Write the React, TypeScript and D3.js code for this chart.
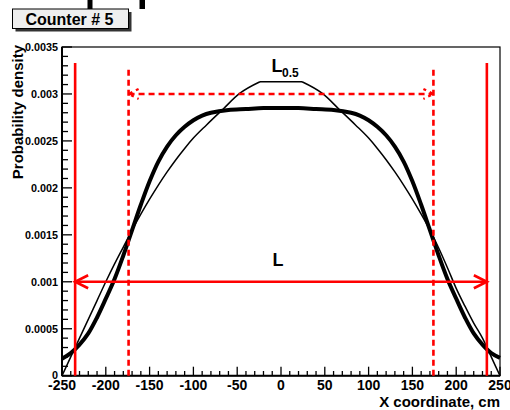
import React from "react";
import * as d3 from "d3";

// ---- data ----
const thickX = [-250, -240, -230, -220, -210, -200, -190, -180, -170, -160, -150, -140, -130, -120, -110, -100, -90, -80, -60, -40, -20, 0, 20, 40, 60, 80, 90, 100, 110, 120, 130, 140, 150, 160, 170, 180, 190, 200, 210, 220, 230, 240, 250];
const thickY = [0.00018, 0.00024, 0.00033, 0.00045, 0.00062, 0.00082, 0.00103, 0.00128, 0.00155, 0.00182, 0.00207, 0.00228, 0.00244, 0.00256, 0.00265, 0.00272, 0.00277, 0.0028, 0.00283, 0.00284, 0.00285, 0.00285, 0.00285, 0.00284, 0.00283, 0.0028, 0.00277, 0.00272, 0.00265, 0.00256, 0.00244, 0.00228, 0.00207, 0.00182, 0.00155, 0.00128, 0.00103, 0.00082, 0.00062, 0.00045, 0.00033, 0.00024, 0.00019];

const thinX = [-250, -240, -230, -220, -210, -200, -190, -180, -170, -160, -150, -140, -130, -120, -110, -100, -85, -66, -48, -24, 24, 48, 66, 85, 100, 110, 120, 130, 140, 150, 160, 170, 180, 190, 200, 210, 220, 230, 240, 250];
const thinY = [0, 0.0002, 0.0004, 0.0006, 0.0008, 0.001, 0.00119, 0.00137, 0.00155, 0.00172, 0.00188, 0.00203, 0.00217, 0.0023, 0.00242, 0.00253, 0.00267, 0.00284, 0.003, 0.00313, 0.00313, 0.003, 0.00284, 0.00267, 0.00253, 0.00242, 0.0023, 0.00217, 0.00203, 0.00188, 0.00172, 0.00155, 0.00136, 0.00115, 0.00093, 0.00074, 0.00056, 0.0004, 0.0002, 0];

const xTickLabels = ["-250", "-200", "-150", "-100", "-50", "0", "50", "100", "150", "200", "250"];
const yTickLabels = ["0", "0.0005", "0.001", "0.0015", "0.002", "0.0025", "0.003", "0.0035"];

const fullRange = [-235, 235]; // L
const halfRange = [-174, 174]; // L0.5
const fullTop = 0.00333;
const halfTop = 0.00327;
const fullArrowY = 0.001;
const halfArrowY = 0.003;

const FONT = "'Liberation Sans', Arial, Helvetica, sans-serif";

export default function App() {
  const W = 510, H = 410;
  const x = d3.scaleLinear().domain([-250, 250]).range([62, 500]);
  const y = d3.scaleLinear().domain([0, 0.0035]).range([375.7, 47]);

  const smooth = d3
    .line<[number, number]>()
    .x((d) => x(d[0]))
    .y((d) => y(d[1]))
    .curve(d3.curveCatmullRom.alpha(0.5));
  const mono = d3
    .line<[number, number]>()
    .x((d) => x(d[0]))
    .y((d) => y(d[1]))
    .curve(d3.curveMonotoneX);

  const thick = thickX.map((v, i) => [v, thickY[i]] as [number, number]);
  const thin = thinX.map((v, i) => [v, thinY[i]] as [number, number]);
  const topL = thinX.indexOf(-24);
  const topR = thinX.indexOf(24);
  const thinLeft = thin.slice(0, topL + 1);
  const thinTop = thin.slice(topL, topR + 1);
  const thinRight = thin.slice(topR);

  const xMinor = d3.range(-250, 251, 10);
  const yMinor = d3.range(0, 36).map((i) => i * 0.0001);

  const red = "#ff0000";

  const arrowHead = (tipX: number, tipY: number, dir: number, len: number, half: number) =>
    `M${tipX + dir * len},${tipY - half}L${tipX},${tipY}L${tipX + dir * len},${tipY + half}`;

  return (
    <svg
      width={W}
      height={H}
      style={{ position: "absolute", left: 0, top: 0, background: "#fff" }}
      fontFamily={FONT}
    >
      <rect x={0} y={0} width={W} height={H} fill="#fff" />
      {/* fragments of big title cut at top */}
      <rect x={87.5} y={0} width={5} height={9} fill="#000" />
      <rect x={139.5} y={0} width={5.5} height={9} fill="#000" />

      {/* title box */}
      <rect x={15.5} y={12} width={116} height={19.5} fill="#333" />
      <rect x={12.5} y={9} width={116} height={19.5} fill="#efefef" stroke="#000" strokeWidth={1} />
      <text x={69.5} y={25} textAnchor="middle" fontSize={16} fontWeight="bold">
        Counter # 5
      </text>

      {/* frame */}
      <rect x={62} y={47} width={438} height={328.7} fill="none" stroke="#000" strokeWidth={1.2} />
      <line x1={62} x2={62} y1={47} y2={375.7} stroke="#000" strokeWidth={2} />
      <line x1={62} x2={500} y1={375.7} y2={375.7} stroke="#000" strokeWidth={2} />

      {/* x ticks */}
      {xMinor.map((v) => {
        const major = v % 50 === 0;
        return (
          <line key={"xt" + v} x1={x(v)} x2={x(v)} y1={375.7} y2={375.7 - (major ? 9 : 4.7)} stroke="#000" strokeWidth={1.3} />
        );
      })}
      {xTickLabels.map((t) => (
        <text key={"xl" + t} x={x(+t)} y={390} textAnchor="middle" fontSize={14} fontWeight="bold">
          {t}
        </text>
      ))}

      {/* y ticks */}
      {yMinor.map((v, i) => {
        const major = i % 5 === 0;
        return (
          <line key={"yt" + i} x1={62} x2={62 + (major ? 10 : 6)} y1={y(v)} y2={y(v)} stroke="#000" strokeWidth={1.3} />
        );
      })}
      {yTickLabels.map((t) => (
        <text key={"yl" + t} x={58} y={y(+t)} dy="0.35em" textAnchor="end" fontSize={10.8} fontWeight="bold">
          {t}
        </text>
      ))}

      {/* axis titles */}
      <text x={500} y={407} textAnchor="end" fontSize={15} fontWeight="bold">
        X coordinate, cm
      </text>
      <text transform="translate(23,45) rotate(-90)" textAnchor="end" fontSize={15} fontWeight="bold">
        Probability density
      </text>

      {/* curves */}
      <path d={mono(thinLeft) || ""} fill="none" stroke="#000" strokeWidth={1.5} />
      <path d={mono(thinTop) || ""} fill="none" stroke="#000" strokeWidth={1.5} />
      <path d={mono(thinRight) || ""} fill="none" stroke="#000" strokeWidth={1.5} />
      <path d={smooth(thick) || ""} fill="none" stroke="#000" strokeWidth={4} strokeLinejoin="round" />

      {/* red solid L markers */}
      {fullRange.map((v) => (
        <line key={"fr" + v} x1={x(v)} x2={x(v)} y1={y(0)} y2={y(fullTop)} stroke={red} strokeWidth={2.6} />
      ))}
      <line x1={x(fullRange[0])} x2={x(fullRange[1])} y1={y(fullArrowY)} y2={y(fullArrowY)} stroke={red} strokeWidth={2.6} />
      <path d={arrowHead(x(fullRange[0]), y(fullArrowY), 1, 13, 6.5)} fill="none" stroke={red} strokeWidth={2.6} />
      <path d={arrowHead(x(fullRange[1]), y(fullArrowY), -1, 13, 6.5)} fill="none" stroke={red} strokeWidth={2.6} />

      {/* red dashed L0.5 markers */}
      {halfRange.map((v) => (
        <line key={"hr" + v} x1={x(v)} x2={x(v)} y1={y(0)} y2={y(halfTop)} stroke={red} strokeWidth={2.6} strokeDasharray="6,4" />
      ))}
      <line x1={x(halfRange[0])} x2={x(halfRange[1])} y1={y(halfArrowY)} y2={y(halfArrowY)} stroke={red} strokeWidth={2.6} strokeDasharray="6,4" />
      <path d={arrowHead(x(halfRange[0]), y(halfArrowY), 1, 10, 5)} fill="none" stroke={red} strokeWidth={2.2} strokeDasharray="3,4" />
      <path d={arrowHead(x(halfRange[1]), y(halfArrowY), -1, 10, 5)} fill="none" stroke={red} strokeWidth={2.2} strokeDasharray="3,4" />

      {/* labels */}
      <text x={272.5} y={266} fontSize={18} fontWeight="bold">
        L
      </text>
      <text x={271.5} y={71.7} fontSize={18} fontWeight="bold">
        L
      </text>
      <text x={282} y={76.5} fontSize={12} fontWeight="bold">
        0.5
      </text>
    </svg>
  );
}
